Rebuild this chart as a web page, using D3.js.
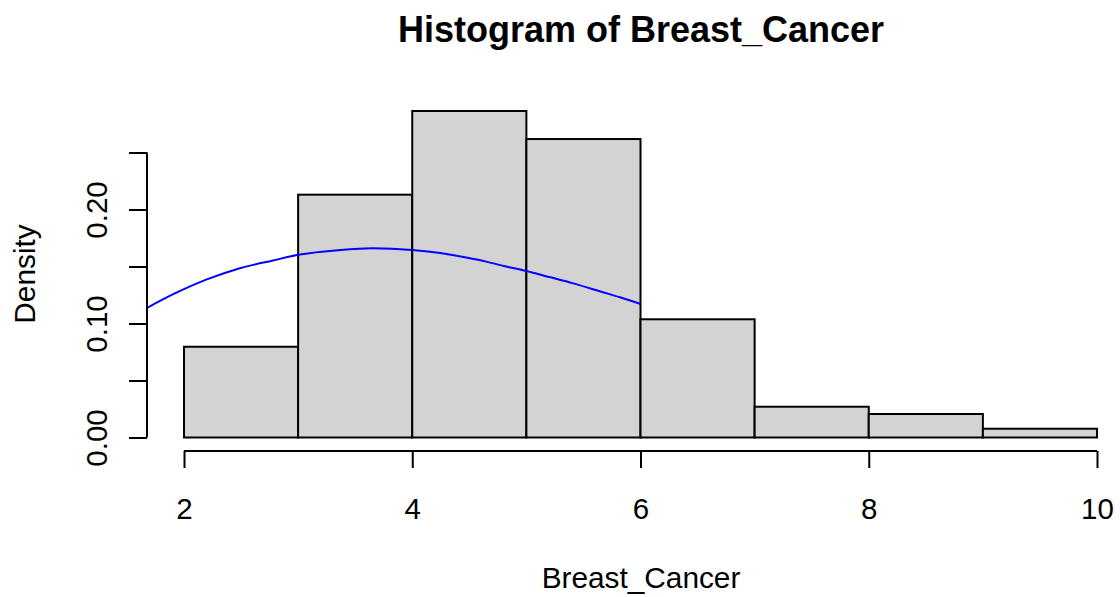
<!DOCTYPE html>
<html>
<head>
<meta charset="utf-8">
<script src="https://cdn.jsdelivr.net/npm/d3@7"></script>
<style>
  html, body { margin: 0; padding: 0; background: #fff; }
  svg { display: block; }
  text { font-family: "Liberation Sans", Arial, Helvetica, sans-serif; fill: #000; }
</style>
</head>
<body>
<svg id="chart" width="1120" height="597"></svg>
<script>
// Histogram bins (left/right edges) and their densities
const binStart = [2, 3, 4, 5, 6, 7, 8, 9];
const binEnd   = [3, 4, 5, 6, 7, 8, 9, 10];
const density  = [0.0796, 0.2130, 0.2864, 0.2618, 0.1037, 0.0270, 0.0206, 0.0077];

// Overlaid density curve (blue)
const curveX = [1.68, 1.91, 2.20, 2.49, 2.78, 2.99, 3.37, 3.65, 4.00, 4.26, 4.45, 4.64, 4.78, 4.99, 5.21, 5.41, 5.65, 5.82, 6.00];
const curveY = [0.1139, 0.1259, 0.1387, 0.1485, 0.1553, 0.1600, 0.1645, 0.1660, 0.1645, 0.1616, 0.1583, 0.1545, 0.1510, 0.1462, 0.1405, 0.1352, 0.1281, 0.1230, 0.1171];

// Axis ticks
const xTicks = [2, 4, 6, 8, 10];
const yTicks = [0, 0.05, 0.10, 0.15, 0.20, 0.25];
const yTickLabels = ["0.00", "", "0.10", "", "0.20", ""];

const titleText = "Histogram of Breast_Cancer";
const xLabel = "Breast_Cancer";
const yLabel = "Density";

const svg = d3.select("#chart");

const x = d3.scaleLinear().domain([2, 10]).range([184, 1097]);
const y = d3.scaleLinear().domain([0, 0.25]).range([437.5, 152.5]);

// Bars
svg.append("g")
  .selectAll("rect")
  .data(density)
  .join("rect")
  .attr("x", (d, i) => x(binStart[i]))
  .attr("y", d => y(d))
  .attr("width", (d, i) => x(binEnd[i]) - x(binStart[i]))
  .attr("height", d => y(0) - y(d))
  .attr("fill", "#d3d3d3")
  .attr("stroke", "#000")
  .attr("stroke-width", 2);

// Density curve
const line = d3.line()
  .x(d => x(d[0]))
  .y(d => y(d[1]))
  .curve(d3.curveMonotoneX);

svg.append("path")
  .datum(curveX.map((v, i) => [v, curveY[i]]))
  .attr("d", line)
  .attr("fill", "none")
  .attr("stroke", "#0000ff")
  .attr("stroke-width", 2);

// X axis (offset below the bars)
const xAxis = svg.append("g")
  .attr("transform", "translate(0,451)")
  .call(d3.axisBottom(x).tickValues(xTicks).tickFormat(d3.format("d")).tickSize(17).tickPadding(30));
xAxis.select(".domain").attr("stroke-width", 2).attr("d", `M${x(2)},0H${x(10)}`);
xAxis.selectAll(".tick line").attr("stroke-width", 2);
xAxis.selectAll(".tick text")
  .attr("font-size", 29.5)
  .attr("font-family", "Liberation Sans, Arial, sans-serif")
  .attr("fill", "#000");

// Y axis (offset left of the bars)
const yAxis = svg.append("g")
  .attr("transform", "translate(147,0)")
  .call(d3.axisLeft(y).tickValues(yTicks).tickFormat((d, i) => yTickLabels[i]).tickSize(18));
yAxis.select(".domain").attr("stroke-width", 2).attr("d", `M0,${y(0)}V${y(0.25)}`);
yAxis.selectAll(".tick line").attr("stroke-width", 2);
yAxis.selectAll(".tick text")
  .attr("font-size", 29.5)
  .attr("font-family", "Liberation Sans, Arial, sans-serif")
  .attr("fill", "#000")
  .attr("text-anchor", "middle")
  .attr("dy", null)
  .attr("x", null)
  .attr("transform", "translate(-40,0) rotate(-90)");

// Title
svg.append("text")
  .attr("x", 641)
  .attr("y", 41.5)
  .attr("text-anchor", "middle")
  .attr("font-size", 36)
  .attr("font-weight", "bold")
  .text(titleText);

// Axis titles
svg.append("text")
  .attr("x", 641)
  .attr("y", 588)
  .attr("text-anchor", "middle")
  .attr("font-size", 29.8)
  .text(xLabel);

svg.append("text")
  .attr("transform", "translate(35,274) rotate(-90)")
  .attr("text-anchor", "middle")
  .attr("font-size", 29.8)
  .text(yLabel);
</script>
</body>
</html>
